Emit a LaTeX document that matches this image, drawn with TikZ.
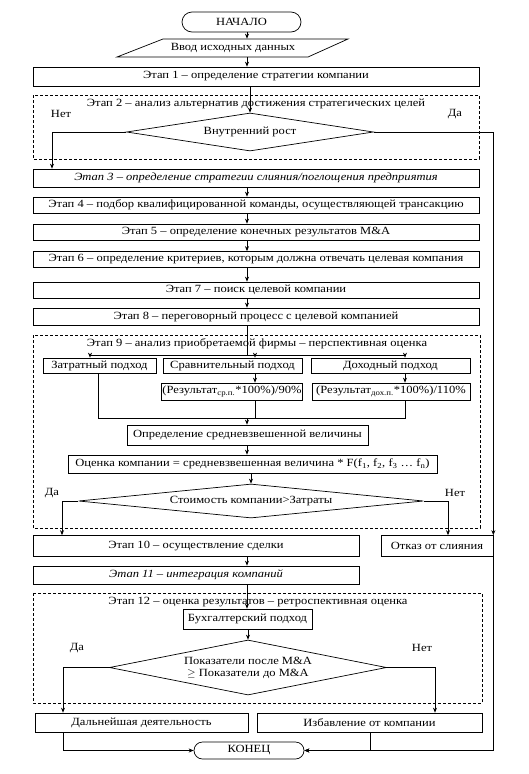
\documentclass[tikz,border=0pt]{standalone}
\usepackage{fontspec}
\setmainfont{Liberation Serif}[FakeStretch=1.14]
\usetikzlibrary{shapes.geometric,shapes.misc,arrows.meta}
\begin{document}
\begin{tikzpicture}[x=1pt,y=-1pt,
  font=\fontsize{11}{12}\selectfont,
  line width=0.7pt,
  >={Stealth[length=5pt,width=4pt]},
  box/.style={draw, rectangle, inner sep=1pt},
  term/.style={draw, rounded rectangle, inner sep=1pt},
  dec/.style={draw, diamond, inner sep=0pt, align=center},
  frame/.style={draw, dash pattern=on 3pt off 2pt},
  lbl/.style={inner sep=0pt},
]
\useasboundingbox (0,0) rectangle (528,774);
\fill[white] (0,0) rectangle (528,774);

% trunk coordinate
\coordinate (tr) at (247,0);

% start and input
\node[term, minimum width=121pt, minimum height=20pt] (start) at (241.5,22) {НАЧАЛО};
\node[inner sep=0pt, minimum width=150pt, minimum height=18pt] (inp) at (233,48) {Ввод исходных данных};
\draw (163,39) -- (348,39) -- (308,57) -- (117,57) -- cycle;

% Etap 1
\node[box, minimum width=446pt, minimum height=19pt] (e1) at (256,76.5) {Этап 1 -- определение стратегии компании};

% Etap 2 frame
\draw[frame] (33,95) rectangle (479,159);
\node[lbl] (t2) at (256,104) {Этап 2 -- анализ альтернатив достижения стратегических целей};
\node[dec, aspect=6.5, minimum width=247pt, minimum height=38pt] (d1) at (250,132) {Внутренний рост};
\node[lbl] (no1) at (61,114) {Нет};
\node[lbl] (yes1) at (455,114) {Да};

% Etaps 3-8
\node[box, minimum width=446pt, minimum height=18pt] (e3) at (256,178) {\itshape Этап 3 -- определение стратегии слияния/поглощения предприятия};
\node[box, minimum width=446pt, minimum height=16pt] (e4) at (256,205) {Этап 4 -- подбор квалифицированной команды, осуществляющей трансакцию};
\node[box, minimum width=446pt, minimum height=16pt] (e5) at (256,232) {Этап 5 -- определение конечных результатов M\&A};
\node[box, minimum width=446pt, minimum height=16pt] (e6) at (256,259.5) {Этап 6 -- определение критериев, которым должна отвечать целевая компания};
\node[box, minimum width=446pt, minimum height=16pt] (e7) at (256,290) {Этап 7 -- поиск целевой компании};
\node[box, minimum width=446pt, minimum height=17pt] (e8) at (256,316.5) {Этап 8 -- переговорный процесс с целевой компанией};

% Etap 9 frame
\draw[frame] (33,335) rectangle (480,528);
\node[lbl] (t9) at (257,344) {Этап 9 -- анализ приобретаемой фирмы -- перспективная оценка};
\node[box, minimum width=113pt, minimum height=15pt] (a1) at (99.5,365.5) {Затратный подход};
\node[box, minimum width=139pt, minimum height=15pt] (a2) at (232.5,365.5) {Сравнительный подход};
\node[box, minimum width=159pt, minimum height=15pt] (a3) at (390.5,365.5) {Доходный подход};
\node[box, minimum width=140pt, minimum height=17pt] (r2) at (232,391.5) {(Результат\textsubscript{ср.п.}*100\%)/90\%};
\node[box, minimum width=158pt, minimum height=17pt] (r3) at (391,391.5) {(Результат\textsubscript{дох.п.}*100\%)/110\%};
\node[box, minimum width=241pt, minimum height=20pt] (avg) at (247.5,435) {Определение средневзвешенной величины};
\node[box, minimum width=369pt, minimum height=18pt] (oc) at (252.5,464) {Оценка компании = средневзвешенная величина * F(f\textsubscript{1}, f\textsubscript{2}, f\textsubscript{3} \ldots\ f\textsubscript{n})};
\node[dec, aspect=10.15, minimum width=345pt, minimum height=34pt] (d2) at (251,501) {Стоимость компании>Затраты};
\node[lbl] (yes2) at (52,493) {Да};
\node[lbl] (no2) at (455,493) {Нет};

% Etap 10, 11, refusal
\node[box, minimum width=326pt, minimum height=21pt] (e10) at (196,546) {Этап 10 -- осуществление сделки};
\node[box, minimum width=112pt, minimum height=21pt] (otk) at (437,546) {Отказ от слияния};
\node[box, minimum width=326pt, minimum height=18pt] (e11) at (196,575) {\itshape Этап 11 -- интеграция компаний};

% Etap 12 frame
\draw[frame] (33,593) rectangle (482,703);
\node[lbl] (t12) at (258,602) {Этап 12 -- оценка результатов -- ретроспективная оценка};
\node[box, minimum width=129pt, minimum height=20pt] (buh) at (247.5,619) {Бухгалтерский подход};
\node[dec, aspect=5.04, minimum width=277pt, minimum height=55pt] (d3) at (248,667.5) {Показатели после M\&A\\$\geq$ Показатели до M\&A};
\node[lbl] (yes3) at (77,648) {Да};
\node[lbl] (no3) at (422,648) {Нет};

\node[box, minimum width=213pt, minimum height=19pt] (dal) at (141.5,722.5) {Дальнейшая деятельность};
\node[box, minimum width=225pt, minimum height=19pt] (izb) at (369.5,722.5) {Избавление от компании};
\node[term, minimum width=112pt, minimum height=17pt] (end) at (249,750.5) {КОНЕЦ};

% connectors top part
\draw[->] (tr |- start.south) -- (tr |- inp.north);
\draw[->] (tr |- inp.south) -- (tr |- e1.north);
\draw[->] (e1.south -| d1.north) -- (d1.north);
\coordinate (nl1) at (52,0);
\draw[->] (d1.west) -| (nl1 |- e3.north);
\draw[->] (d1.east) -| (otk.north east);
\draw[->] (tr |- e3.south) -- (tr |- e4.north);
\draw[->] (tr |- e4.south) -- (tr |- e5.north);
\draw[->] (tr |- e5.south) -- (tr |- e6.north);
\draw[->] (tr |- e6.south) -- (tr |- e7.north);
\draw[->] (tr |- e7.south) -- (tr |- e8.north);

% etap 9 branches
\coordinate (b1) at (90,355);
\coordinate (b2) at (255,355);
\coordinate (b3) at (405,355);
\draw (tr |- e8.south) -- (tr |- b1);
\draw (b1) -- (b3);
\draw[->] (b1) -- (b1 |- a1.north);
\draw[->] (b2) -- (b2 |- a2.north);
\draw[->] (b3) -- (b3 |- a3.north);
\draw[->] (b2 |- a2.south) -- (b2 |- r2.north);
\draw[->] (b3 |- a3.south) -- (b3 |- r3.north);
\coordinate (m1) at (98,418);
\coordinate (m3) at (405,418);
\draw (m1 |- a1.south) -- (m1) -- (m3) -- (m3 |- r3.south);
\draw (b2 |- r2.south) -- (b2 |- m1);
\draw[->] (tr |- m1) -- (tr |- avg.north);
\draw[->] (tr |- avg.south) -- (tr |- oc.north);
\draw[->] (oc.south -| d2.north) -- (d2.north);
\coordinate (dl2) at (62,0);
\coordinate (dr2) at (448,0);
\draw[->] (d2.west) -| (dl2 |- e10.north);
\draw[->] (d2.east) -| (dr2 |- otk.north);

% lower part
\draw[->] (tr |- e10.south) -- (tr |- e11.north);
\draw[->] (tr |- e11.south) -- (tr |- buh.north);
\draw[->] (buh.south -| d3.north) -- (d3.north);
\coordinate (dl3) at (63,0);
\coordinate (dr3) at (435,0);
\draw[->] (d3.west) -| (dl3 |- dal.north);
\draw[->] (d3.east) -| (dr3 |- izb.north);
\coordinate (iz) at (370,0);
\draw[->] (dl3 |- dal.south) |- (end.west);
\draw[->] (iz |- izb.south) |- (end.east);
\draw[->] (otk.south east) |- (end.east);
\end{tikzpicture}
\end{document}
